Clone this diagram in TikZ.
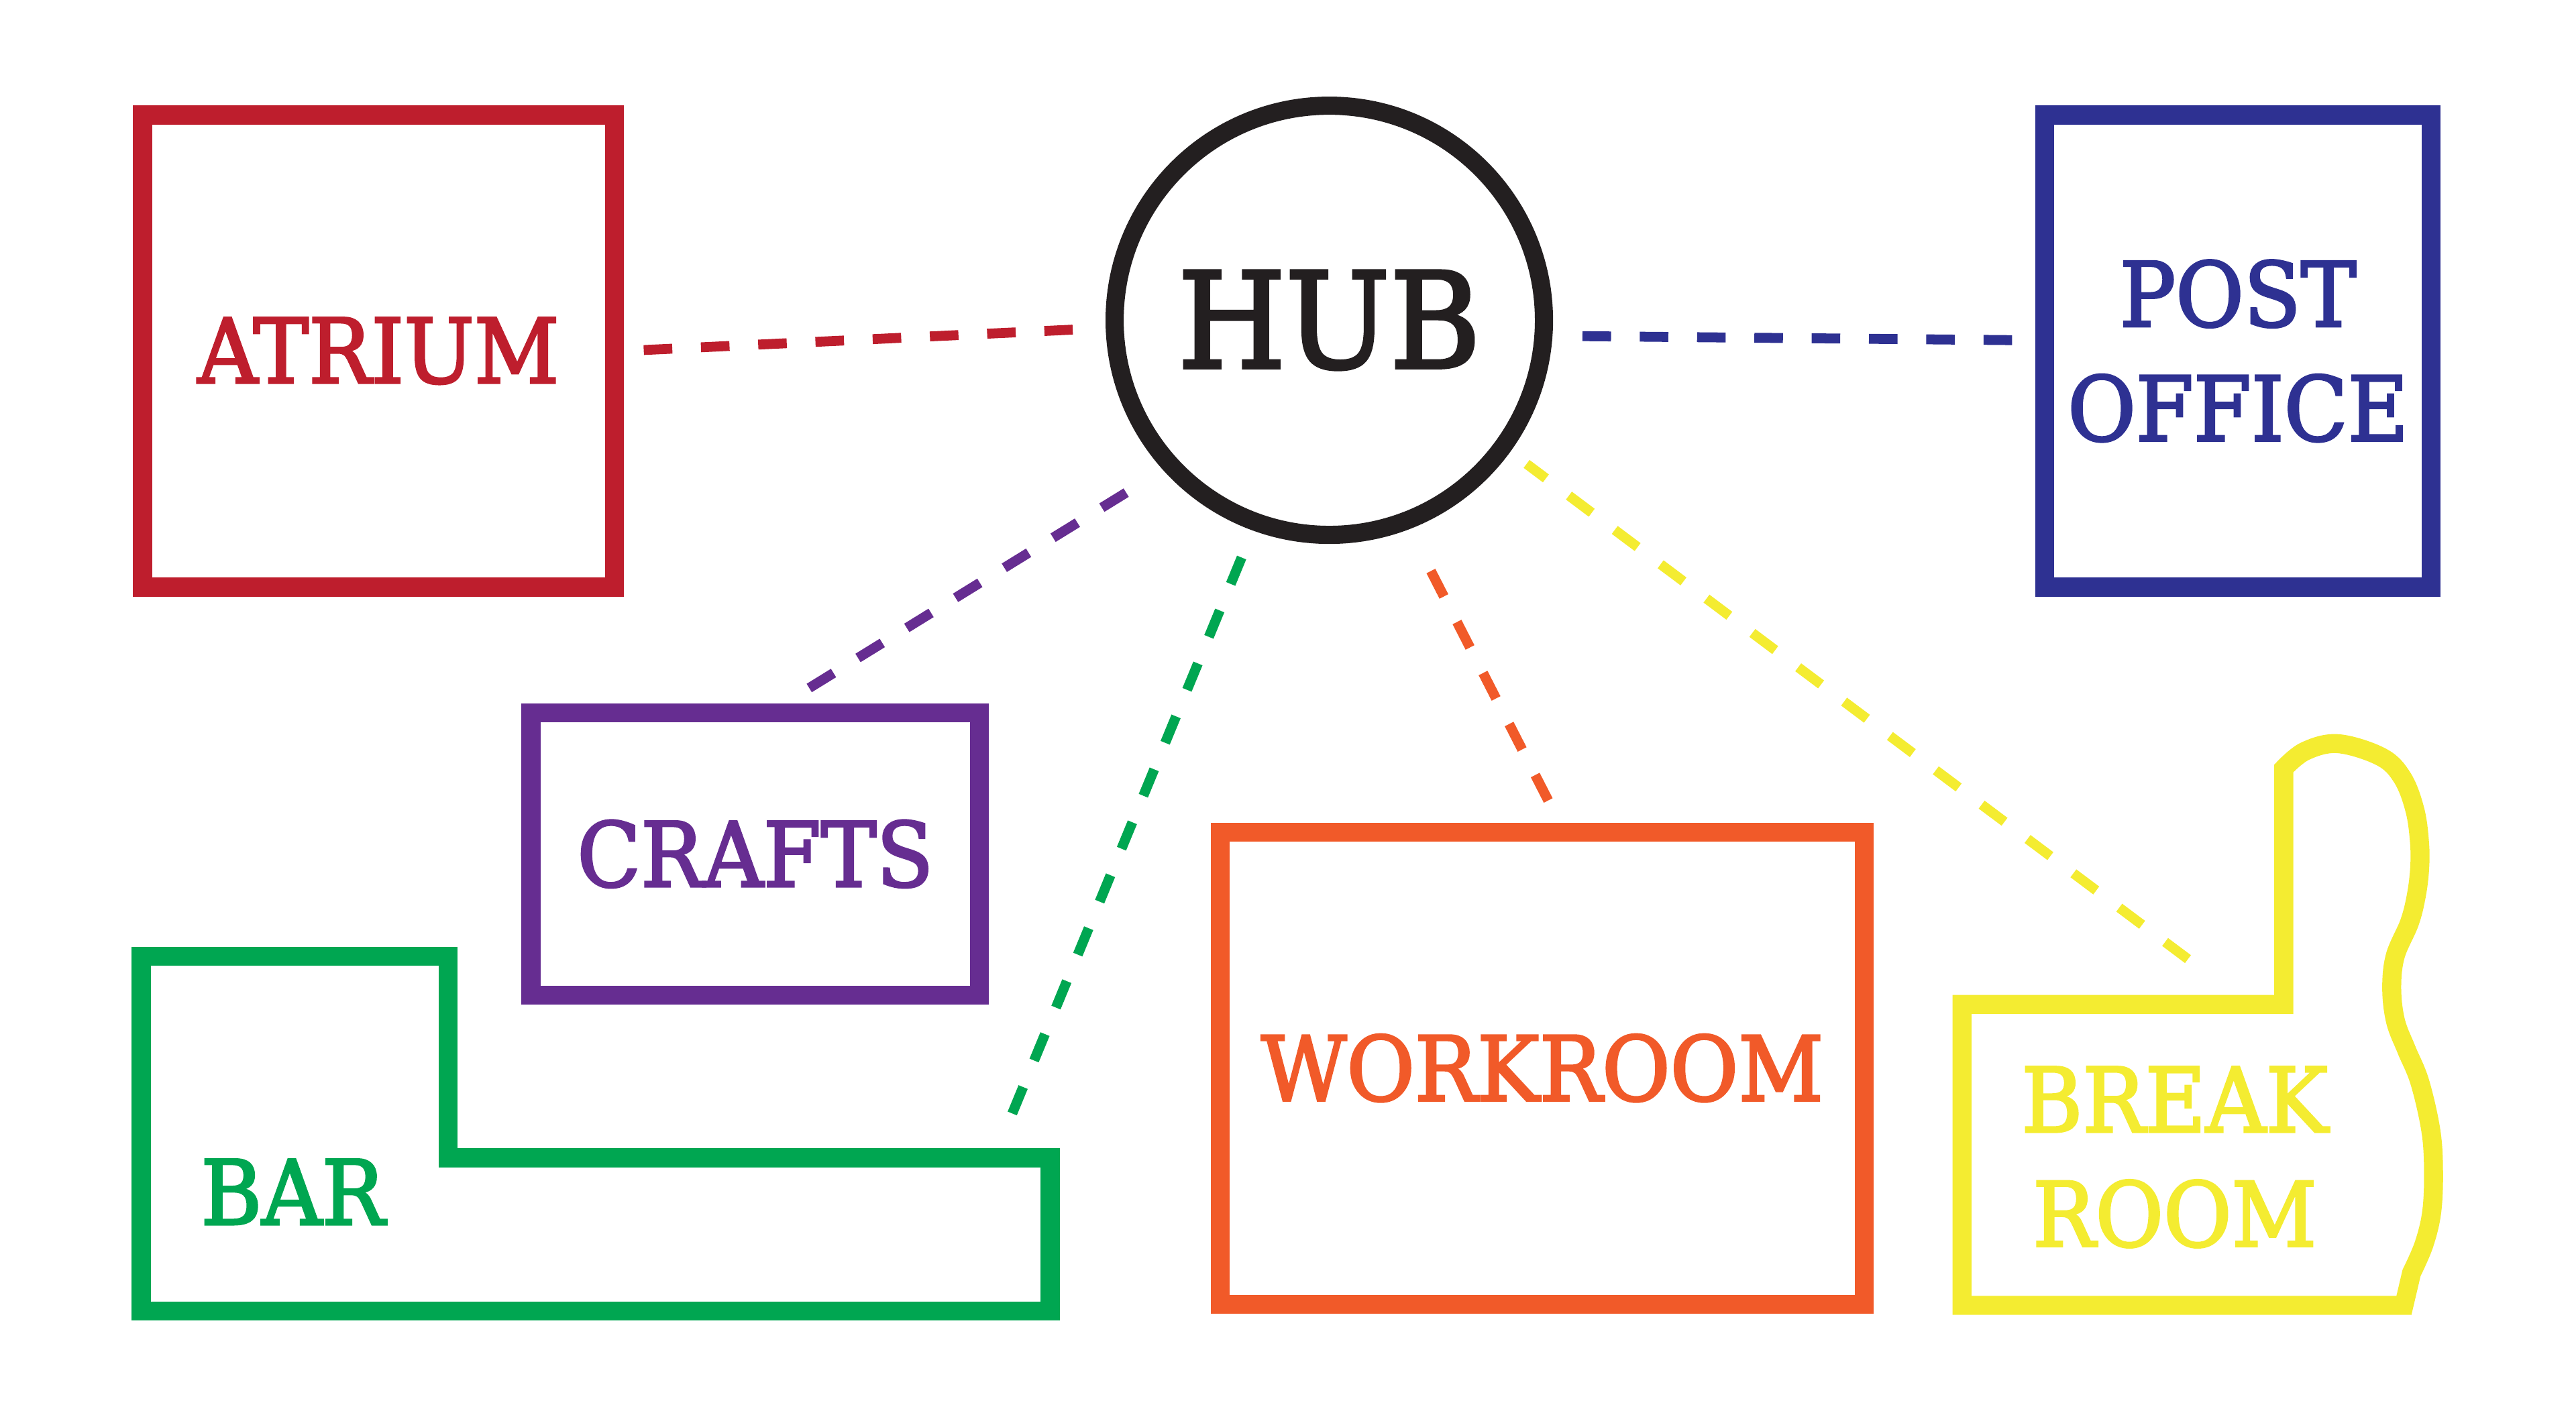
\documentclass[tikz,border=0pt]{standalone}
\usepackage{fontspec}
\setmainfont{DejaVu Serif}[FakeStretch=0.93,FakeBold=2.5]
\usepackage{tikz}

\definecolor{hubblack}{HTML}{231F20}
\definecolor{atriumred}{HTML}{BE1E2D}
\definecolor{postblue}{HTML}{2E3192}
\definecolor{craftspurple}{HTML}{662D91}
\definecolor{bargreen}{HTML}{00A651}
\definecolor{workorange}{HTML}{F15A29}
\definecolor{breakyellow}{HTML}{F4EC31}

\begin{document}
\begin{tikzpicture}[x=0.1mm,y=-0.1mm,
     room/.style={draw,line width=1.15mm,inner sep=0pt,align=center,
                  font=\fontsize{15.4pt}{19.7pt}\selectfont},
     label/.style={align=center,font=\fontsize{15.4pt}{19.7pt}\selectfont},
     link/.style={line width=0.6mm,dash pattern=on 1.73mm off 1.74mm}]
     \useasboundingbox (0,0) rectangle (1560,858);

     %中心
     \node (hub) at (805,194) [circle,draw=hubblack,line width=1.1mm,minimum size=26mm,
          inner sep=0pt,text=hubblack,font=\fontsize{22.9pt}{22.9pt}\selectfont]{HUB};

     %房间
     \node (atrium) at (229.2,212.6) [room,draw=atriumred,text=atriumred,
          minimum width=28.58mm,minimum height=28.6mm]{ATRIUM};
     \node (post) at (1355.3,212.6) [room,draw=postblue,text=postblue,
          minimum width=23.41mm,minimum height=28.6mm]{POST\\OFFICE};
     \node (crafts) at (457.4,517.3) [room,draw=craftspurple,text=craftspurple,
          minimum width=27.16mm,minimum height=17.12mm]{CRAFTS};
     \node (workroom) at (934,647) [room,draw=workorange,text=workorange,
          minimum width=39mm,minimum height=28.6mm]{WORKROOM};

     \draw[line width=1.15mm,bargreen] (85.5,579.2) -- (271.4,579.2) -- (271.4,701.4)
          -- (636,701.4) -- (636,794.3) -- (85.5,794.3) -- cycle;
     \node (bar) at (177.3,722) [label,text=bargreen]{BAR};

     \draw[line width=1.15mm,breakyellow] (1188.2,790.7) -- (1188.2,608.4) -- (1383,608.4)
          -- plot[smooth,tension=0.6] coordinates {(1383,465.5) (1396,455) (1416,450.5)
          (1442.2,458.6) (1455,471.4) (1462.5,491) (1465.3,511.5) (1465.2,527.5)
          (1463.1,543.5) (1459.1,559) (1450.5,579.2) (1448.4,598.9) (1450.7,618.6)
          (1457.3,635.8) (1465.4,655.5) (1472.1,685) (1473.7,709.6) (1472.6,734.2)
          (1467.9,753.9) (1460.4,771.1)} -- (1455.8,790.7) -- cycle;
     \node (break) at (1317,701) [label,text=breakyellow]{BREAK\\ROOM};

     %连线
     \coordinate (barjoin) at (613,674.5);
     \coordinate (breakjoin) at (1325,581);
     \foreach \a/\b/\c/\p/\q in {atrium.east/182/atriumred/1.2/2.0,
          post.177/-4/postblue/1.4/1.8, crafts.79/222/craftspurple/1.75/2.2,
          barjoin/250.5/bargreen/0/1.7, workroom.86.5/-69/workorange/1.5/2.35,
          breakjoin/-36.5/breakyellow/0/1.23}  {
          \draw[link,\c,shorten <=\p mm,shorten >=\q mm] (\a) -- (hub.\b);
     }

\end{tikzpicture}
\end{document}
